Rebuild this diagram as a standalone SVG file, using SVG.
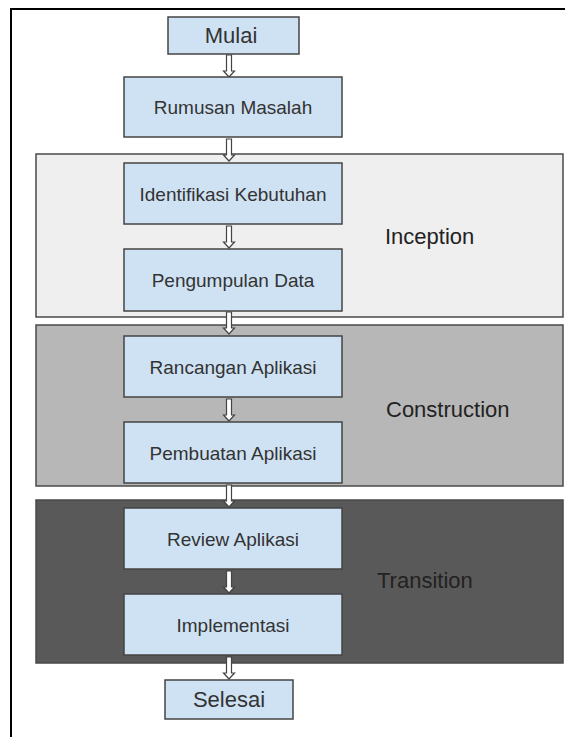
<svg xmlns="http://www.w3.org/2000/svg" width="565" height="737" viewBox="0 0 565 737">
  <defs>
    <style>
      .frame { fill: none; stroke: #000; stroke-width: 2; }
      .band { stroke: #4a4a4a; stroke-width: 1.5; }
      .node rect { fill: #cfe2f3; stroke: #444; stroke-width: 1.5; }
      .node text { font-family: "Liberation Sans", Arial, sans-serif; font-size: 19px; fill: #333; text-anchor: middle; }
      .node.term text { font-size: 22px; }
      .stage { font-family: "Liberation Sans", Arial, sans-serif; font-size: 22px; fill: #222; }
      .arrow { fill: #fff; stroke: #444; stroke-width: 1.2; stroke-linejoin: miter; }
    </style>
    <!-- hollow down arrow, origin at top centre, 22px long -->
    <path id="down" class="arrow" d="M-2.5,0 H2.5 V16 H5.5 L0,22 L-5.5,16 H-2.5 Z"/>
  </defs>

  <rect width="565" height="737" fill="#fff"/>
  <path class="frame" d="M11,737 V9 H565"/>

  <!-- phase bands -->
  <g id="phase-inception">
    <rect class="band" x="36" y="154" width="527" height="163" fill="#efefef"/>
    <text class="stage" x="385" y="244">Inception</text>
  </g>
  <g id="phase-construction">
    <rect class="band" x="36" y="325" width="527" height="161" fill="#b7b7b7"/>
    <text class="stage" x="386" y="417">Construction</text>
  </g>
  <g id="phase-transition">
    <rect class="band" x="36" y="500" width="527" height="163" fill="#595959"/>
    <text class="stage" x="377" y="588" fill="#111">Transition</text>
  </g>

  <!-- connectors -->
  <g id="connectors">
    <use href="#down" x="229" y="55"/>
    <use href="#down" x="229" y="139"/>
    <use href="#down" x="229" y="226"/>
    <use href="#down" x="229" y="312"/>
    <use href="#down" x="229" y="399"/>
    <use href="#down" x="229" y="485"/>
    <use href="#down" x="229" y="571"/>
    <use href="#down" x="229" y="657"/>
  </g>

  <!-- steps -->
  <g id="mulai" class="node term">
    <rect x="168" y="17" width="131" height="37"/>
    <text x="231" y="43">Mulai</text>
  </g>
  <g id="rumusan-masalah" class="node">
    <rect x="124" y="77" width="218" height="60"/>
    <text x="233" y="114">Rumusan Masalah</text>
  </g>
  <g id="identifikasi-kebutuhan" class="node">
    <rect x="124" y="163" width="218" height="61"/>
    <text x="233" y="200.5">Identifikasi Kebutuhan</text>
  </g>
  <g id="pengumpulan-data" class="node">
    <rect x="124" y="249" width="218" height="62"/>
    <text x="233" y="287">Pengumpulan Data</text>
  </g>
  <g id="rancangan-aplikasi" class="node">
    <rect x="124" y="336" width="218" height="61"/>
    <text x="233" y="373.5">Rancangan Aplikasi</text>
  </g>
  <g id="pembuatan-aplikasi" class="node">
    <rect x="124" y="422" width="218" height="61"/>
    <text x="233" y="459.5">Pembuatan Aplikasi</text>
  </g>
  <g id="review-aplikasi" class="node">
    <rect x="124" y="508" width="218" height="61"/>
    <text x="233" y="545.5">Review Aplikasi</text>
  </g>
  <g id="implementasi" class="node">
    <rect x="124" y="594" width="218" height="61"/>
    <text x="233" y="631.5">Implementasi</text>
  </g>
  <g id="selesai" class="node term">
    <rect x="165" y="680" width="128" height="39"/>
    <text x="229" y="707">Selesai</text>
  </g>
</svg>
